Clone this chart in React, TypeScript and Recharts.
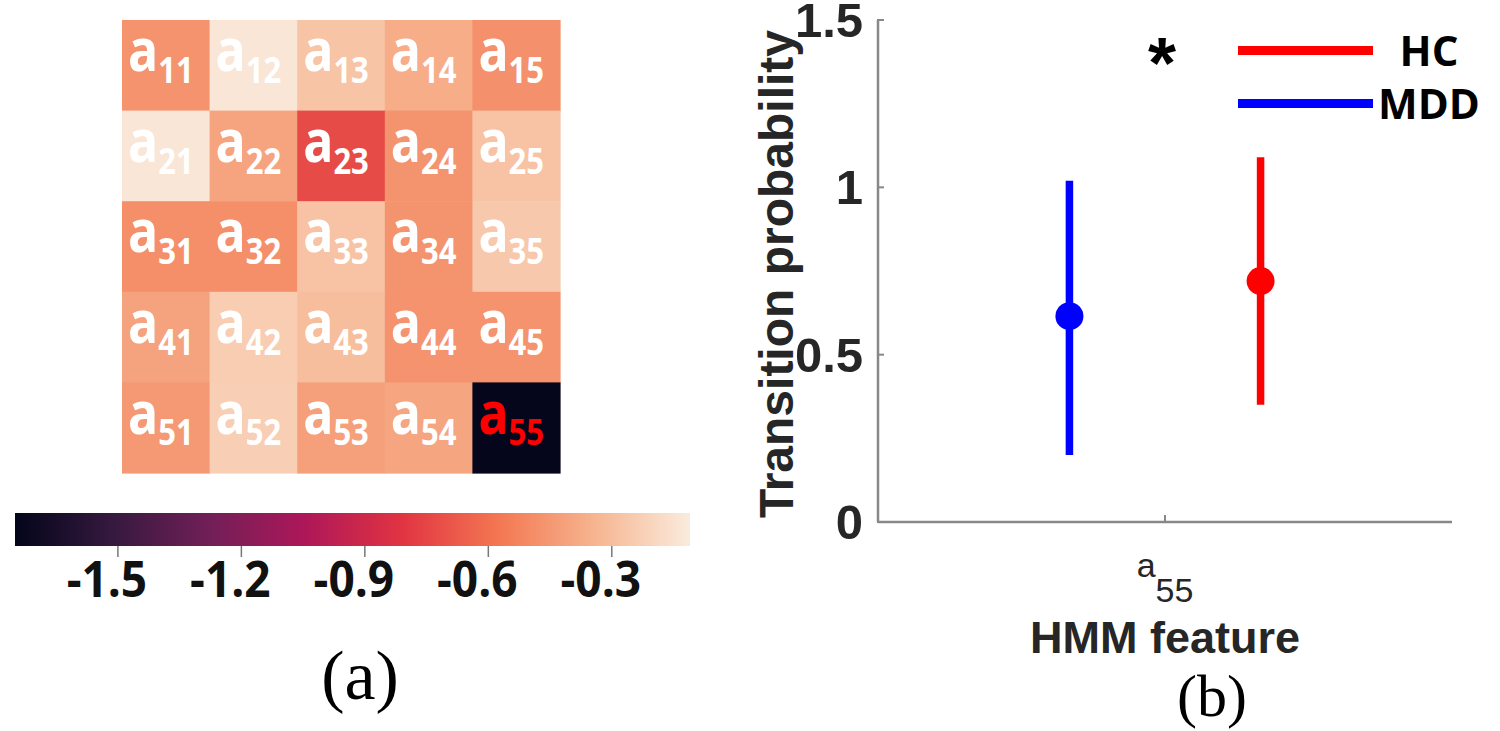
import React from "react"
import {
  ScatterChart,
  Scatter,
  BarChart,
  Bar,
  XAxis,
  YAxis,
  ErrorBar,
  Legend
} from "recharts"

// ===== panel (a): HMM transition matrix (log values) =====
const stateIds = ["1", "2", "3", "4", "5"]
const transitionValues = [
  [-0.47, -0.13, -0.275, -0.37, -0.48],
  [-0.13, -0.405, -0.73, -0.465, -0.28],
  [-0.485, -0.485, -0.28, -0.465, -0.26],
  [-0.41, -0.24, -0.3, -0.47, -0.47],
  [-0.445, -0.23, -0.42, -0.4, -1.74]
]
const highlightCell = "55"
const colorbarRange: [number, number] = [-1.75, -0.11]
const colorbarTicks = [-1.5, -1.2, -0.9, -0.6, -0.3]

// ===== panel (b): a55 transition probability =====
const groups = ["HC", "MDD"]
const groupColors = ["#FF0000", "#0000FF"]
const groupOffsets = [0.333, -0.333]
const groupMeans = [0.72, 0.615]
const groupErrors: [number, number][] = [[0.37, 0.37], [0.415, 0.405]]
const featureTicks = [1]
const featureLabels = ["55"]
const probTicks = [0, 0.5, 1, 1.5]

// seaborn "rocket"
const rocketStops: [number, string][] = [
  [0, "#03051A"],
  [0.143, "#35193E"],
  [0.286, "#701F57"],
  [0.429, "#AD1759"],
  [0.571, "#E13342"],
  [0.714, "#F37651"],
  [0.857, "#F6B48F"],
  [1, "#FAEBDD"]
]

function hexToRgb(h: string) {
  return [1, 3, 5].map(i => parseInt(h.slice(i, i + 2), 16))
}

function rocketColor(v: number) {
  let t = (v - colorbarRange[0]) / (colorbarRange[1] - colorbarRange[0])
  t = Math.max(0, Math.min(1, t))
  for (let i = 1; i < rocketStops.length; i++) {
    const [t1, c1] = rocketStops[i]
    const [t0, c0] = rocketStops[i - 1]
    if (t <= t1) {
      const f = (t - t0) / (t1 - t0)
      const a = hexToRgb(c0)
      const b = hexToRgb(c1)
      const rgb = a.map((ch, k) => Math.round(ch + (b[k] - ch) * f))
      return `rgb(${rgb.join(",")})`
    }
  }
  return rocketStops[rocketStops.length - 1][1]
}

const heatData = transitionValues.flatMap((row, i) =>
  row.map((v, j) => ({
    x: j + 0.5,
    y: i + 0.5,
    v,
    label: stateIds[i] + stateIds[j]
  }))
)

const colorbarData = [{ name: "colorbar", range: colorbarRange }]

const seriesData = groups.map((g, i) => [
  {
    x: featureTicks[0] + groupOffsets[i],
    y: groupMeans[i],
    err: groupErrors[i]
  }
])

const CELL_W = 438 / 5
const CELL_H = 453 / 5

const HeatCell = (props: any) => {
  const { cx, cy, payload } = props
  if (cx == null || cy == null) return null
  const hot = payload.label === highlightCell
  return (
    <g>
      <rect
        x={cx - CELL_W / 2}
        y={cy - CELL_H / 2}
        width={CELL_W + 0.6}
        height={CELL_H + 0.6}
        fill={rocketColor(payload.v)}
      />
      <g transform={`translate(${cx - 5},${cy}) scale(1,1.18)`}>
        <text
          x={0}
          y={5}
          textAnchor="middle"
          fontFamily="Open Sans"
          fontWeight={700}
          fill={hot ? "#FF0000" : "#FFFFFF"}
        >
          <tspan fontSize={50}>a</tspan>
          <tspan fontSize={31} dy={10}>{payload.label}</tspan>
        </text>
      </g>
    </g>
  )
}

const ColorbarTick = (props: any) => {
  const { x, y, payload } = props
  return (
    <g transform={`translate(${x - 11},${y + 38}) scale(1,1.08)`}>
      <text
        x={0}
        y={0}
        textAnchor="middle"
        fontFamily="Open Sans"
        fontWeight={700}
        fontSize={46}
        fill="#111"
      >
        {payload.value}
      </text>
    </g>
  )
}

const ProbTick = (props: any) => {
  const { x, y, payload } = props
  return (
    <g>
      <line x1={x + 14} x2={x + 21} y1={y} y2={y} stroke="#888" strokeWidth={2} />
      <text
        x={x}
        y={y}
        dy={17}
        textAnchor="end"
        fontFamily="Liberation Sans"
        fontWeight={700}
        fontSize={49}
        fill="#262626"
      >
        {payload.value}
      </text>
    </g>
  )
}

const FeatureTick = (props: any) => {
  const { x, y, index } = props
  return (
    <g>
      <line x1={x} x2={x} y1={y} y2={y - 7} stroke="#888" strokeWidth={2} />
      <text
        x={x}
        y={y + 55}
        textAnchor="middle"
        fontFamily="Liberation Sans"
        fontSize={34}
        fill="#262626"
      >
        <tspan>a</tspan>
        <tspan dy={25}>{featureLabels[index ?? 0]}</tspan>
      </text>
    </g>
  )
}

const YLabel = (props: any) => {
  const { viewBox } = props
  const x = viewBox.x + 93
  const y = viewBox.y + viewBox.height / 2 + 3
  return (
    <text
      x={x}
      y={y}
      transform={`rotate(-90 ${x} ${y})`}
      textAnchor="middle"
      fontFamily="Liberation Sans"
      fontWeight={700}
      fontSize={48}
      fill="#262626"
    >
      Transition probability
    </text>
  )
}

const XLabel = (props: any) => {
  const { viewBox } = props
  return (
    <text
      x={viewBox.x + viewBox.width / 2}
      y={viewBox.y + 131}
      textAnchor="middle"
      fontFamily="Liberation Sans"
      fontWeight={700}
      fontSize={45}
      fill="#262626"
    >
      HMM feature
    </text>
  )
}

const GroupLegend = (props: any) => {
  const { payload } = props
  return (
    <svg width={262} height={130} style={{ overflow: "visible" }}>
      {(payload || []).map((e: any, i: number) => (
        <g key={e.value}>
          <line
            x1={0}
            x2={135}
            y1={50.5 + i * 53}
            y2={50.5 + i * 53}
            stroke={e.color}
            strokeWidth={9}
          />
          <text
            x={191}
            y={50.5 + i * 53 + 15}
            textAnchor="middle"
            fontFamily="Open Sans"
            fontWeight={700}
            fontSize={42}
            fill="#000"
          >
            {e.value}
          </text>
        </g>
      ))}
    </svg>
  )
}

export default function App() {
  return (
    <div style={{ position: "absolute", left: 0, top: 0, width: 1500, height: 731, background: "#fff" }}>
      <svg width={0} height={0} style={{ position: "absolute" }}>
        <defs>
          <linearGradient id="rocketGrad" x1="0" y1="0" x2="1" y2="0">
            {rocketStops.map(([t, c]) => (
              <stop key={t} offset={t} stopColor={c} />
            ))}
          </linearGradient>
        </defs>
      </svg>

      {/* ===== (a) HEATMAP ===== */}
      <div style={{ position: "absolute", left: 0, top: 0 }}>
        <ScatterChart width={700} height={500} margin={{ top: 20, right: 140, bottom: 27, left: 122 }}>
          <XAxis type="number" dataKey="x" domain={[0, 5]} hide />
          <YAxis type="number" dataKey="y" domain={[0, 5]} reversed hide />
          <Scatter data={heatData} shape={HeatCell} isAnimationActive={false} />
        </ScatterChart>
      </div>

      {/* ===== (a) COLORBAR ===== */}
      <div style={{ position: "absolute", left: 0, top: 480 }}>
        <BarChart
          layout="vertical"
          width={720}
          height={140}
          data={colorbarData}
          margin={{ top: 33, right: 30, bottom: 14, left: 15 }}
          barCategoryGap={0}
        >
          <XAxis
            type="number"
            domain={colorbarRange}
            ticks={colorbarTicks}
            allowDataOverflow
            axisLine={false}
            tickLine={{ stroke: "#777", strokeWidth: 1.5 }}
            tickSize={11}
            height={60}
            tick={<ColorbarTick />}
          />
          <YAxis type="category" dataKey="name" hide />
          <Bar dataKey="range" fill="url(#rocketGrad)" isAnimationActive={false} />
        </BarChart>
      </div>

      {/* ===== (b) ERROR BAR PLOT ===== */}
      <div style={{ position: "absolute", left: 700, top: 0 }}>
        <ScatterChart width={800} height={731} margin={{ top: 20, right: 48, bottom: 149, left: 0 }}>
          <XAxis
            type="number"
            dataKey="x"
            domain={[0, 2]}
            ticks={featureTicks}
            height={60}
            tickSize={0}
            tickMargin={0}
            axisLine={{ stroke: "#888", strokeWidth: 2.5 }}
            tick={<FeatureTick />}
            label={XLabel}
          />
          <YAxis
            type="number"
            dataKey="y"
            domain={[0, 1.5]}
            ticks={probTicks}
            width={178}
            tickSize={0}
            tickMargin={15}
            axisLine={{ stroke: "#888", strokeWidth: 2.5 }}
            tick={<ProbTick />}
            label={YLabel}
          />
          <Legend
            layout="vertical"
            align="center"
            verticalAlign="middle"
            content={GroupLegend}
            wrapperStyle={{ position: "absolute", left: 538, top: 0, width: 262 }}
          />
          {groups.map((g, i) => (
            <Scatter
              key={g}
              name={g}
              data={seriesData[i]}
              fill={groupColors[i]}
              isAnimationActive={false}
              shape={(p: any) => <circle cx={p.cx} cy={p.cy} r={14} fill={groupColors[i]} />}
            >
              <ErrorBar
                dataKey="err"
                direction="y"
                width={0}
                stroke={groupColors[i]}
                strokeWidth={7.5}
                isAnimationActive={false}
              />
            </Scatter>
          ))}
        </ScatterChart>
      </div>

      {/* ===== CAPTIONS ===== */}
      <svg width={1500} height={731} style={{ position: "absolute", left: 0, top: 0, pointerEvents: "none" }}>
        <text x={1162} y={88} textAnchor="middle" fontFamily="Liberation Sans" fontWeight={700} fontSize={72} fill="#000">*</text>
        <text x={360} y={699} textAnchor="middle" fontFamily="Liberation Serif" fontSize={70} fill="#000">(a)</text>
        <text x={1212} y={716} textAnchor="middle" fontFamily="Liberation Serif" fontSize={60} fill="#000">(b)</text>
      </svg>
    </div>
  )
}
